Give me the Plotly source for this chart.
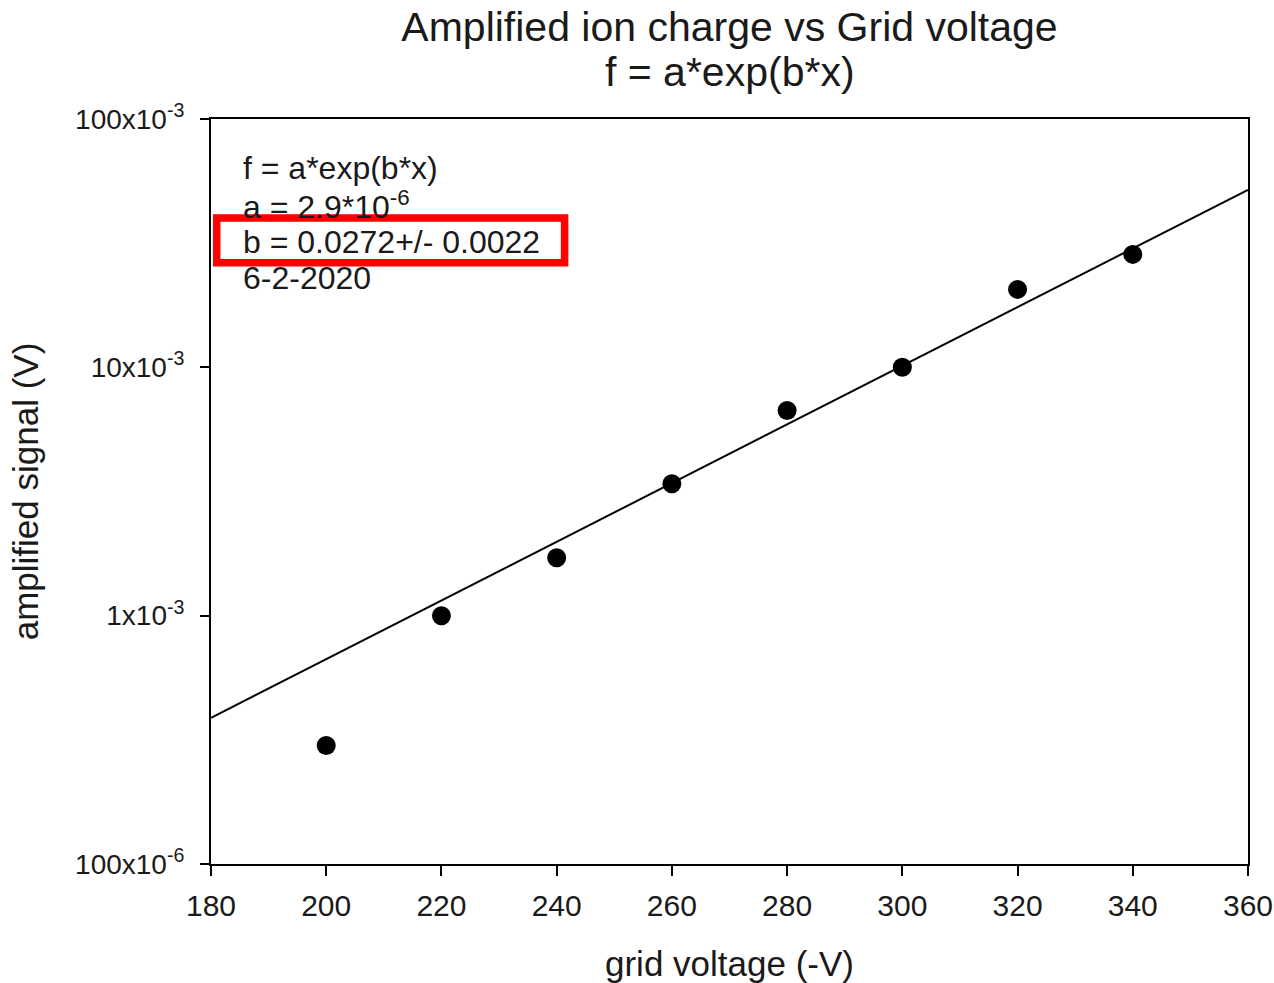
import numpy as np
import plotly.graph_objects as go

# Data
grid_voltage = [200, 220, 240, 260, 280, 300, 320, 340]
amplified_signal = [3.0e-4, 1.0e-3, 1.71e-3, 3.4e-3, 6.7e-3, 1.0e-2, 2.06e-2, 2.85e-2]

# Fit parameters (from the annotation)
fit_a = 2.9e-6
fit_b = 0.0272
fit_range = [180, 360]

y_tickvals = [1e-4, 1e-3, 1e-2, 1e-1]
y_ticktext = ["100x10<sup>-6</sup>", "1x10<sup>-3</sup>", "10x10<sup>-3</sup>", "100x10<sup>-3</sup>"]
x_tickvals = [180, 200, 220, 240, 260, 280, 300, 320, 340, 360]

title_line1 = "Amplified ion charge vs Grid voltage"
title_line2 = "f = a*exp(b*x)"
ann_lines = ["f = a*exp(b*x)", "a = 2.9*10<sup>-6</sup>", "b = 0.0272+/- 0.0022", "6-2-2020"]

FONT = "Liberation Sans, Arial, sans-serif"
TXT = "#1a1a1a"

x_fit = np.linspace(fit_range[0], fit_range[1], 50)
y_fit = fit_a * np.exp(fit_b * x_fit)

fig = go.Figure()
fig.add_trace(go.Scatter(x=x_fit, y=y_fit, mode="lines",
                         line=dict(color="black", width=2), showlegend=False,
                         hoverinfo="skip"))
fig.add_trace(go.Scatter(x=grid_voltage, y=amplified_signal, mode="markers",
                         marker=dict(color="black", size=19), showlegend=False))

fig.update_layout(
    width=1274, height=983,
    margin=dict(l=211, r=26, t=119, b=119, autoexpand=False),
    paper_bgcolor="white", plot_bgcolor="white",
    font=dict(family=FONT, color=TXT, size=27),
    title=dict(text=title_line1,
               x=0.5, xref="paper", xanchor="center",
               y=1 - 27 / 983, yref="container", yanchor="middle",
               automargin=False,
               font=dict(family=FONT, size=41, color=TXT)),
    showlegend=False,
)

fig.add_annotation(text=title_line2, xref="paper", yref="paper", x=0.5,
                   y=(864 - 72) / 745, xanchor="center", yanchor="middle",
                   showarrow=False, font=dict(family=FONT, size=41, color=TXT))

fig.update_xaxes(range=[180, 360], tickvals=x_tickvals,
                 showline=True, linecolor="black", linewidth=2, mirror=True,
                 ticks="outside", ticklen=10, tickwidth=2, tickcolor="black",
                 showgrid=False, zeroline=False, automargin=False,
                 tickfont=dict(size=30), ticklabelstandoff=4,
                 title=dict(text="grid voltage (-V)", font=dict(size=35), standoff=38))
fig.update_yaxes(type="log", range=[-4, -1], tickvals=y_tickvals, ticktext=y_ticktext,
                 showline=True, linecolor="black", linewidth=2, mirror=True,
                 ticks="outside", ticklen=9, tickwidth=2, tickcolor="black",
                 showgrid=False, zeroline=False, automargin=False,
                 tickfont=dict(size=28), ticklabelstandoff=10,
                 title=dict(text="amplified signal (V)", font=dict(size=35), standoff=26))

ann_y = [0.934, 0.8846, 0.8349, 0.7866]
for txt, yy in zip(ann_lines, ann_y):
    fig.add_annotation(text=txt, xref="paper", yref="paper", x=0.029, y=yy,
                       xanchor="left", yanchor="middle", showarrow=False,
                       font=dict(size=32, family=FONT, color=TXT))

fig.add_shape(type="rect", xref="paper", yref="paper",
              x0=0.0055, x1=0.341, y0=0.807, y1=0.867,
              line=dict(color="#ff0000", width=7.5), fillcolor="rgba(0,0,0,0)")

fig.write_html("out.html")
